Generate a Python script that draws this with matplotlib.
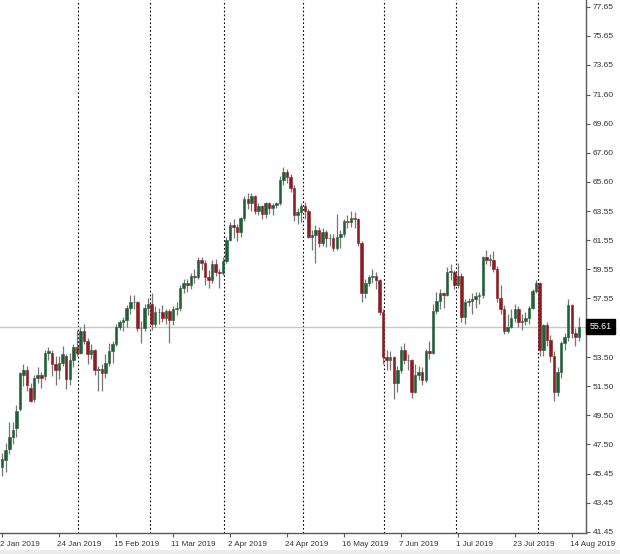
import matplotlib
matplotlib.use('Agg')
import matplotlib.pyplot as plt
import matplotlib.transforms as mtransforms
import pandas as pd
import numpy as np

plt.rcParams['font.family'] = ['Liberation Sans', 'DejaVu Sans']

BULL = '#1f5f38'
BEAR = '#8c1c22'
WICK = '#777777'
AXIS = '#5a5a5a'
TEXT = '#333333'

# daily bars, 2 Jan 2019 .. 16 Aug 2019 (weekdays)
dates = pd.bdate_range('2019-01-02', '2019-08-16')

opens = [45.9, 46.4, 47.2, 48.0, 48.6, 49.9, 52.3, 52.6, 51.4, 50.6,
         52.1, 52.3, 52.2, 53.8, 53.8, 53.0, 52.6, 53.1, 53.6, 52.0,
         53.3, 54.2, 53.8, 55.3, 54.6, 53.7, 54.0, 52.6, 52.7, 52.4,
         53.1, 53.9, 54.4, 55.6, 55.9, 56.1, 56.9, 57.3, 57.3, 55.5,
         55.5, 56.9, 57.2, 55.8, 56.6, 56.6, 56.2, 56.7, 56.1, 56.8,
         56.9, 58.3, 58.6, 58.5, 59.1, 59.0, 60.2, 60.0, 59.0, 58.8,
         59.9, 59.4, 59.3, 60.1, 61.6, 62.6, 62.5, 62.1, 63.1, 64.4,
         64.1, 64.6, 63.6, 63.9, 63.4, 64.1, 63.8, 64.0, 64.1, 65.7,
         66.3, 65.9, 65.2, 63.3, 63.5, 63.9, 63.6, 61.8, 61.9, 62.3,
         61.4, 62.1, 61.7, 61.7, 61.0, 61.8, 62.0, 62.9, 62.8, 63.1,
         63.0, 61.4, 57.9, 58.6, 59.0, 59.1, 58.8, 56.6, 53.5, 53.3,
         53.5, 51.7, 52.6, 54.0, 53.3, 53.3, 51.1, 52.3, 52.5, 51.9,
         53.9, 53.8, 56.7, 57.4, 57.9, 57.8, 59.4, 59.4, 58.5, 59.1,
         56.3, 57.3, 57.4, 57.5, 57.7, 57.8, 60.4, 60.2, 60.2, 59.6,
         57.6, 56.8, 55.3, 55.6, 56.2, 56.8, 55.9, 56.0, 56.2, 56.9,
         58.1, 58.6, 54.0, 55.7, 54.7, 53.6, 51.1, 52.5, 54.5, 54.9,
         57.1, 55.2, 54.9]

highs = [46.9, 47.6, 49.0, 49.0, 50.2, 52.5, 53.0, 52.9, 51.7, 52.3,
         52.8, 52.5, 54.0, 54.2, 54.0, 53.6, 53.6, 54.3, 53.7, 53.8,
         54.4, 55.4, 55.6, 55.8, 54.8, 54.4, 54.1, 52.9, 53.0, 53.7,
         54.5, 54.6, 55.8, 56.1, 56.3, 57.1, 57.8, 57.8, 57.4, 56.0,
         57.2, 57.6, 57.9, 57.0, 56.9, 57.1, 56.8, 56.8, 57.0, 57.3,
         58.5, 58.9, 58.9, 59.3, 59.6, 60.4, 60.4, 60.2, 59.5, 60.2,
         60.3, 59.6, 60.4, 61.8, 62.8, 63.0, 62.7, 63.2, 64.6, 64.8,
         64.8, 64.7, 64.1, 64.0, 64.2, 64.2, 64.1, 64.2, 66.0, 66.6,
         66.5, 66.1, 65.4, 63.8, 64.1, 64.2, 63.7, 62.3, 62.6, 62.5,
         62.4, 62.3, 62.0, 62.0, 63.4, 62.3, 63.0, 63.3, 63.6, 63.5,
         63.1, 61.5, 58.9, 59.2, 59.6, 59.4, 58.9, 56.8, 54.0, 53.9,
         53.6, 52.9, 54.3, 54.5, 53.7, 53.4, 53.0, 52.9, 52.8, 54.1,
         54.6, 57.2, 58.0, 58.2, 58.0, 59.7, 59.9, 59.5, 60.0, 59.3,
         57.5, 57.6, 57.9, 58.0, 58.0, 60.5, 60.9, 60.6, 60.8, 59.8,
         58.5, 57.1, 56.5, 56.8, 57.2, 57.0, 56.5, 56.6, 57.0, 58.2,
         58.8, 58.7, 55.8, 55.9, 55.0, 53.9, 52.8, 54.6, 55.2, 57.5,
         57.2, 55.5, 56.3]

lows = [45.3, 45.6, 46.8, 47.5, 48.0, 49.8, 51.5, 51.2, 50.4, 50.4,
        51.7, 51.4, 51.9, 53.3, 52.2, 51.6, 52.0, 52.9, 51.3, 51.6,
        52.8, 53.6, 53.7, 54.4, 53.0, 53.4, 52.3, 51.2, 51.2, 52.1,
        52.9, 53.1, 54.3, 55.4, 55.3, 55.6, 56.5, 56.8, 55.3, 54.5,
        55.3, 56.4, 55.4, 55.6, 55.8, 55.9, 55.8, 54.5, 55.7, 56.4,
        56.7, 57.9, 58.0, 58.2, 58.6, 58.9, 59.5, 58.5, 58.3, 58.6,
        59.1, 58.3, 59.2, 60.0, 61.5, 61.7, 61.5, 61.8, 62.9, 63.7,
        63.6, 63.4, 63.3, 63.0, 63.1, 63.4, 63.3, 63.8, 64.0, 65.4,
        65.5, 64.9, 62.9, 62.7, 62.8, 63.0, 61.7, 60.9, 60.0, 61.1,
        61.2, 61.1, 61.2, 60.8, 60.9, 61.0, 61.8, 62.4, 62.5, 62.4,
        61.2, 57.3, 57.6, 58.4, 58.6, 58.2, 56.4, 53.0, 52.6, 52.6,
        50.6, 51.1, 52.4, 53.0, 52.6, 50.7, 51.0, 51.9, 51.6, 51.8,
        53.4, 53.7, 56.5, 56.8, 56.9, 57.7, 58.8, 58.2, 58.3, 55.9,
        55.8, 57.0, 56.5, 56.9, 57.2, 57.6, 59.9, 59.8, 59.4, 57.3,
        56.5, 55.1, 55.2, 55.5, 55.9, 55.6, 55.4, 55.7, 55.8, 56.8,
        57.9, 53.6, 53.6, 54.3, 53.2, 50.5, 50.8, 52.1, 54.0, 54.6,
        54.8, 54.3, 54.6]

closes = [46.5, 47.1, 48.0, 48.5, 49.8, 52.4, 52.6, 51.6, 50.5, 52.1,
          52.3, 52.1, 53.8, 53.9, 53.0, 52.6, 53.1, 53.7, 52.0, 53.3,
          54.2, 53.8, 55.3, 54.6, 53.7, 54.0, 52.6, 52.7, 52.4, 53.1,
          53.9, 54.4, 55.6, 55.9, 56.1, 56.9, 57.3, 57.3, 55.5, 55.5,
          56.9, 57.2, 55.8, 56.6, 56.6, 56.2, 56.7, 56.1, 56.8, 56.9,
          58.3, 58.6, 58.5, 59.1, 59.0, 60.2, 60.0, 59.0, 58.8, 59.9,
          59.4, 59.3, 60.1, 61.6, 62.6, 62.5, 62.1, 63.1, 64.4, 64.1,
          64.6, 63.6, 63.9, 63.4, 64.1, 63.8, 64.0, 64.1, 65.7, 66.3,
          65.9, 65.2, 63.3, 63.5, 63.9, 63.6, 61.8, 61.9, 62.3, 61.4,
          62.1, 61.7, 61.7, 61.0, 61.8, 62.0, 62.9, 62.8, 63.1, 63.0,
          61.4, 57.9, 58.6, 59.0, 59.1, 58.8, 56.6, 53.5, 53.3, 53.5,
          51.7, 52.6, 54.0, 53.3, 53.3, 51.1, 52.3, 52.5, 51.9, 53.9,
          53.8, 56.7, 57.4, 57.9, 57.8, 59.4, 59.4, 58.5, 59.1, 56.3,
          57.3, 57.4, 57.5, 57.7, 57.8, 60.4, 60.2, 60.2, 59.6, 57.6,
          56.8, 55.3, 55.6, 56.2, 56.8, 55.9, 56.0, 56.2, 56.9, 58.1,
          58.6, 54.0, 55.7, 54.7, 53.6, 51.1, 52.5, 54.5, 54.9, 57.1,
          55.2, 54.9, 55.61]

last_price = 55.61
price_ticks = [41.45, 43.45, 45.45, 47.50, 49.50, 51.50, 53.50, 57.55, 59.55,
               61.55, 63.55, 65.60, 67.60, 69.60, 71.60, 73.65, 75.65, 77.65]
label_every = 16

o = np.array(opens)
h = np.array(highs)
l = np.array(lows)
c = np.array(closes)
idx = np.arange(len(dates))
up = c >= o

fig = plt.figure(figsize=(6.2, 5.54), dpi=100)
fig.patch.set_facecolor('white')
ax = fig.add_axes([0, 21 / 554, 586 / 620, 533 / 554])
ax.set_facecolor('white')

# month separators (dotted)
month_start = [i for i in range(1, len(dates)) if dates[i].month != dates[i - 1].month]
for i in month_start:
    ax.axvline(i - 0.6, color='black', linestyle=(0, (1.5, 2)), linewidth=0.8, zorder=1)

# last price line
ax.axhline(last_price, color='#c8c8c8', linewidth=1.0, zorder=1)

# candles
ax.vlines(idx, l, h, color=WICK, linewidth=0.9, zorder=2)
body_lo = np.minimum(o, c)
body_h = np.maximum(np.abs(c - o), 0.04)
colors = [BULL if u else BEAR for u in up]
ax.bar(idx, body_h, bottom=body_lo, width=0.7, color=colors,
       edgecolor=colors, linewidth=0.4, zorder=3)

ax.set_xlim(-0.6, 164.0)
ax.set_ylim(41.38, 78.13)

for s in ['left', 'top']:
    ax.spines[s].set_visible(False)
for s in ['right', 'bottom']:
    ax.spines[s].set_color(AXIS)
    ax.spines[s].set_linewidth(1.0)

ax.yaxis.tick_right()
ax.set_yticks(price_ticks)
ax.set_yticklabels(['%.2f' % v for v in price_ticks])
ax.tick_params(axis='y', direction='out', length=3, width=0.8, colors=AXIS,
               labelcolor=TEXT, labelsize=6, pad=2)

xt = idx[::label_every]
ax.set_xticks(xt)
ax.set_xticklabels([f'{d.day} {d.strftime("%b %Y")}' for d in dates[xt]], ha='left')
ax.tick_params(axis='x', direction='out', length=3, width=0.8, colors=AXIS,
               labelcolor=TEXT, labelsize=5.8, pad=3)
shift = mtransforms.ScaledTranslation(-2 / 100, 0, fig.dpi_scale_trans)
for lab in ax.get_xticklabels():
    lab.set_transform(lab.get_transform() + shift)

# price box on the right axis
ax.text(1.006, (last_price - 41.38) / (78.13 - 41.38), '%.2f' % last_price,
        transform=ax.transAxes, ha='left', va='center', fontsize=6.3, color='white',
        bbox=dict(boxstyle='square,pad=0.35', facecolor='black', edgecolor='black'),
        clip_on=False, zorder=5)

fig.patches.append(plt.Rectangle((0, 0), 1, 4 / 554, transform=fig.transFigure,
                                 facecolor='#ececec', edgecolor='none'))

plt.savefig('out.png', dpi=100, facecolor='white')
plt.close()
